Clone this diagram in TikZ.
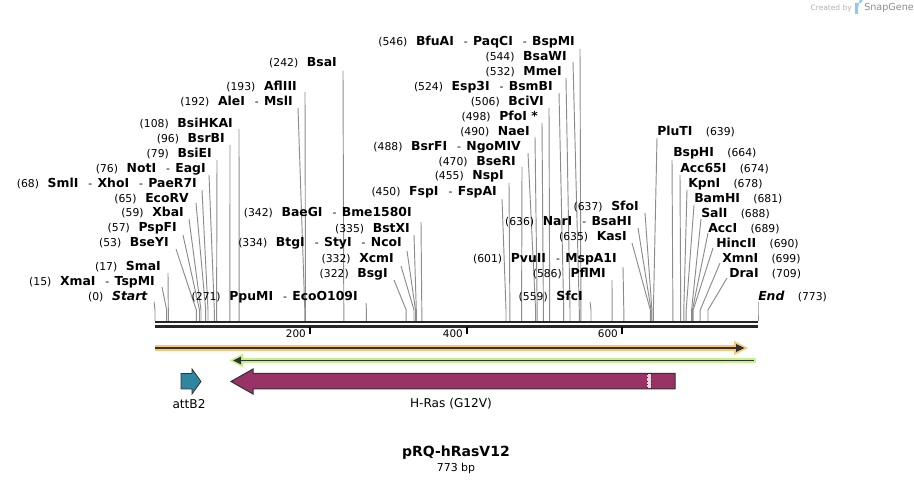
\documentclass[tikz,border=0pt]{standalone}
\usepackage{fontspec}
\setmainfont{DejaVu Sans}
\definecolor{ras}{RGB}{153,51,102}
\definecolor{attb}{RGB}{46,134,160}
\definecolor{orglow}{RGB}{250,200,115}
\definecolor{grglow}{RGB}{195,242,140}
\definecolor{dk}{RGB}{50,50,50}
\definecolor{barc}{RGB}{38,38,38}
\definecolor{cutgray}{RGB}{140,140,140}
\definecolor{logoblue}{RGB}{140,200,240}
\newcommand{\myNf}{\fontsize{8.1}{9}\selectfont}
\newcommand{\myGap}{\hspace{6.5pt}}
\newcommand{\mySep}{\hspace{7.5pt}{\myNf -}\hspace{4pt}}
\newcommand{\myRgap}{\hspace{10pt}}
\newcommand{\Lcut}[7]{%
  \node[lab, anchor=base east] (#1) at (#2,{#3+4}) {#7};
  \coordinate (#1s) at (#4,#5);
  \coordinate (#1k) at (#6,310);
  \coordinate (#1b) at (#6,321);
  \draw[cut] (#1s) -- (#1k) -- (#1b);
}
\newcommand{\Rcut}[7]{%
  \node[lab, anchor=base west] (#1) at (#2,{#3+4}) {#7};
  \coordinate (#1s) at (#4,#5);
  \coordinate (#1k) at (#6,310);
  \coordinate (#1b) at (#6,321);
  \draw[cut] (#1s) -- (#1k) -- (#1b);
}
\tikzset{
  lab/.style={inner sep=0pt, font=\fontsize{9.3}{10}\selectfont},
  cut/.style={draw=cutgray, line width=0.7pt},
  feat/.style={inner sep=0pt, font=\fontsize{9.1}{10}\selectfont},
  ticklab/.style={inner sep=0pt, anchor=east, font=\fontsize{7.8}{9}\selectfont},
  tickmark/.style={draw=black, line width=1.4pt},
}
\begin{document}
\begin{tikzpicture}[x=0.75pt, y=-0.75pt]
\useasboundingbox (0,0) rectangle (914,484);
\fill[white] (0,0) rectangle (914,484);

% ---- cut sites, left side labels
\Lcut{c0}{148}{297}{154}{302}{155}{{\myNf (0)}\myGap\textbf{\textit{Start}}}
\Lcut{c15}{155}{282}{162}{287}{166.7}{{\myNf (15)}\myGap\textbf{XmaI}\mySep\textbf{TspMI}}
\Lcut{c17}{161}{267}{168}{273}{168.3}{{\myNf (17)}\myGap\textbf{SmaI}}
\Lcut{c53}{169}{243}{176}{249}{196.3}{{\myNf (53)}\myGap\textbf{BseYI}}
\Lcut{c57}{177}{228}{183}{235}{199.5}{{\myNf (57)}\myGap\textbf{PspFI}}
\Lcut{c59}{184}{213}{189}{219}{201}{{\myNf (59)}\myGap\textbf{XbaI}}
\Lcut{c65}{189}{199}{196}{203}{205.7}{{\myNf (65)}\myGap\textbf{EcoRV}}
\Lcut{c68}{197}{184}{202}{190}{208}{{\myNf (68)}\myGap\textbf{SmlI}\mySep\textbf{XhoI}\mySep\textbf{PaeR7I}}
\Lcut{c76}{206}{169}{209}{175}{214.3}{{\myNf (76)}\myGap\textbf{NotI}\mySep\textbf{EagI}}
\Lcut{c79}{212}{154}{217}{160}{216.6}{{\myNf (79)}\myGap\textbf{BsiEI}}
\Lcut{c96}{225}{139}{230}{145}{229.9}{{\myNf (96)}\myGap\textbf{BsrBI}}
\Lcut{c108}{233}{124}{239}{129}{239.2}{{\myNf (108)}\myGap\textbf{BsiHKAI}}
\Lcut{c192}{293}{102}{298}{108}{304.8}{{\myNf (192)}\myGap\textbf{AleI}\mySep\textbf{MslI}}
\Lcut{c193}{297}{87}{305}{92}{305.5}{{\myNf (193)}\myGap\textbf{AflIII}}
\Lcut{c242}{337}{63}{343}{71}{343.8}{{\myNf (242)}\myGap\textbf{BsaI}}
\Lcut{c271}{358}{297}{366}{303}{366.4}{{\myNf (271)}\myGap\textbf{PpuMI}\mySep\textbf{EcoO109I}}
\Lcut{c322}{388}{274}{394}{280}{406.2}{{\myNf (322)}\myGap\textbf{BsgI}}
\Lcut{c332}{394}{259}{401}{266}{414}{{\myNf (332)}\myGap\textbf{XcmI}}
\Lcut{c334}{402}{243}{407}{251}{415.5}{{\myNf (334)}\myGap\textbf{BtgI}\mySep\textbf{StyI}\mySep\textbf{NcoI}}
\Lcut{c335}{410}{229}{414}{235}{416.3}{{\myNf (335)}\myGap\textbf{BstXI}}
\Lcut{c342}{412}{213}{421}{222}{421.8}{{\myNf (342)}\myGap\textbf{BaeGI}\mySep\textbf{Bme1580I}}
\Lcut{c450}{497}{192}{502}{199}{506}{{\myNf (450)}\myGap\textbf{FspI}\mySep\textbf{FspAI}}
\Lcut{c455}{504}{176}{509}{183}{509.9}{{\myNf (455)}\myGap\textbf{NspI}}
\Lcut{c470}{516}{162}{522}{167}{521.6}{{\myNf (470)}\myGap\textbf{BseRI}}
\Lcut{c488}{521}{147}{528}{153}{535.6}{{\myNf (488)}\myGap\textbf{BsrFI}\mySep\textbf{NgoMIV}}
\Lcut{c490}{530}{132}{535}{137}{537.2}{{\myNf (490)}\myGap\textbf{NaeI}}
\Lcut{c498}{538}{117}{542}{123}{543.4}{{\myNf (498)}\myGap\textbf{PfoI *}}
\Lcut{c506}{544}{102}{549}{108}{549.7}{{\myNf (506)}\myGap\textbf{BciVI}}
\Lcut{c524}{553}{87}{559}{93}{563.7}{{\myNf (524)}\myGap\textbf{Esp3I}\mySep\textbf{BsmBI}}
\Lcut{c532}{562}{72}{566}{78}{570}{{\myNf (532)}\myGap\textbf{MmeI}}
\Lcut{c544}{567}{57}{573}{62}{579.3}{{\myNf (544)}\myGap\textbf{BsaWI}}
\Lcut{c546}{575}{42}{580}{49}{580.9}{{\myNf (546)}\myGap\textbf{BfuAI}\mySep\textbf{PaqCI}\mySep\textbf{BspMI}}
\Lcut{c559}{583}{297}{590}{302}{591}{{\myNf (559)}\myGap\textbf{SfcI}}
\Lcut{c586}{606}{274}{612}{280}{612.1}{{\myNf (586)}\myGap\textbf{PflMI}}
\Lcut{c601}{617}{259}{623}{267}{623.8}{{\myNf (601)}\myGap\textbf{PvuII}\mySep\textbf{MspA1I}}
\Lcut{c635}{627}{237}{632}{243}{650.3}{{\myNf (635)}\myGap\textbf{KasI}}
\Lcut{c636}{632}{222}{638}{228}{651.1}{{\myNf (636)}\myGap\textbf{NarI}\mySep\textbf{BsaHI}}
\Lcut{c637}{639}{207}{645}{213}{651.9}{{\myNf (637)}\myGap\textbf{SfoI}}

% ---- right side labels
\Rcut{c639}{657}{132}{657}{138}{653.4}{\textbf{PluTI}\myRgap{\myNf (639)}}
\Rcut{c664}{673}{153}{672}{160}{672.9}{\textbf{BspHI}\myRgap{\myNf (664)}}
\Rcut{c674}{680}{169}{680}{175}{680.7}{\textbf{Acc65I}\myRgap{\myNf (674)}}
\Rcut{c678}{688}{184}{687}{190}{683.8}{\textbf{KpnI}\myRgap{\myNf (678)}}
\Rcut{c681}{694}{199}{694}{205}{686.2}{\textbf{BamHI}\myRgap{\myNf (681)}}
\Rcut{c688}{701}{214}{701}{219}{691.6}{\textbf{SalI}\myRgap{\myNf (688)}}
\Rcut{c689}{708}{229}{708}{233}{692.4}{\textbf{AccI}\myRgap{\myNf (689)}}
\Rcut{c690}{716}{244}{713}{248}{693.2}{\textbf{HincII}\myRgap{\myNf (690)}}
\Rcut{c699}{722}{259}{720}{263}{700.2}{\textbf{XmnI}\myRgap{\myNf (699)}}
\Rcut{c709}{729}{274}{727}{278}{708}{\textbf{DraI}\myRgap{\myNf (709)}}
\Rcut{c773}{758}{297}{758}{302}{758}{\textbf{\textit{End}}\myRgap{\myNf (773)}}

% ---- sequence bar
\coordinate (barL1) at (155,322);
\coordinate (barR1) at (758,322);
\coordinate (barL2) at (155,326.5);
\coordinate (barR2) at (758,326.5);
\draw[barc, line width=1.9pt] (barL1) -- (barR1);
\draw[barc, line width=1.9pt] (barL2) -- (barR2);

% ---- ticks
\foreach \tx/\tl in {310/200, 467/400, 622/600}{
  \coordinate (t\tl a) at (\tx,327);
  \coordinate (t\tl b) at (\tx,334);
  \draw[tickmark] (t\tl a) -- (t\tl b);
  \node[ticklab] (t\tl l) at ({\tx-4},333.5) {\tl};
}

% ---- orange feature (forward)
\coordinate (oS) at (155,348);
\coordinate (oE) at (740,348);
\draw[orglow, line width=4.4pt] (oS) -- (oE);
\fill[orglow] (734,341) -- (748,348) -- (734,355) -- cycle;
\draw[dk, line width=1.5pt] (oS) -- (oE);
\fill[dk] (736,344) -- (744.5,348) -- (736,352) -- cycle;

% ---- green feature (reverse)
\coordinate (gS) at (756,360.5);
\coordinate (gE) at (238,360.5);
\draw[grglow, line width=4.4pt] (gS) -- (gE);
\fill[grglow] (243,353.5) -- (229.5,360.5) -- (243,367.5) -- cycle;
\draw[dk, line width=1.3pt] (754,360.5) -- (gE);
\fill[dk] (241,356.5) -- (233,360.5) -- (241,364.5) -- cycle;

% ---- attB2
\draw[fill=attb, draw=dk, line width=0.6pt, line join=miter]
  (181,373.5) -- (192,373.5) -- (192,369) -- (201,381.5) -- (192,394) -- (192,389) -- (181,389) -- cycle;
\node[feat] (attbl) at (189,404) {attB2};

% ---- H-Ras (G12V)
\draw[fill=ras, draw=dk, line width=0.75pt, line join=miter]
  (675,373.5) -- (253,373.5) -- (253,369) -- (231,381.5) -- (253,394) -- (253,389) -- (675,389) -- cycle;
\fill[white!80!ras] (647,374) rectangle (651,388.5);
\draw[dk, dotted, line width=0.5pt] (647,374) -- (647,388.5) (651,374) -- (651,388.5);
\node[feat] (rasl) at (451,404) {H-Ras (G12V)};

% ---- title
\node[inner sep=0pt, font=\fontsize{10.5}{12}\bfseries] (title) at (456,453) {pRQ-hRasV12};
\node[inner sep=0pt, font=\fontsize{8.2}{10}\selectfont] (size) at (456,468) {773 bp};

% ---- watermark
\node[inner sep=0pt, anchor=east, text=black!30, font=\fontsize{5.6}{6}\selectfont] (wm1) at (852,8) {Created by};
\fill[logoblue] (855,3) rectangle (858,14);
\fill[logoblue] (858,3) -- (860,3) arc (90:-90:2.5) -- (858,8) -- cycle;
\node[inner sep=0pt, anchor=west, text=black!45, font=\fontsize{7.2}{8}\selectfont] (wm2) at (864,8) {SnapGene};
\end{tikzpicture}
\end{document}
